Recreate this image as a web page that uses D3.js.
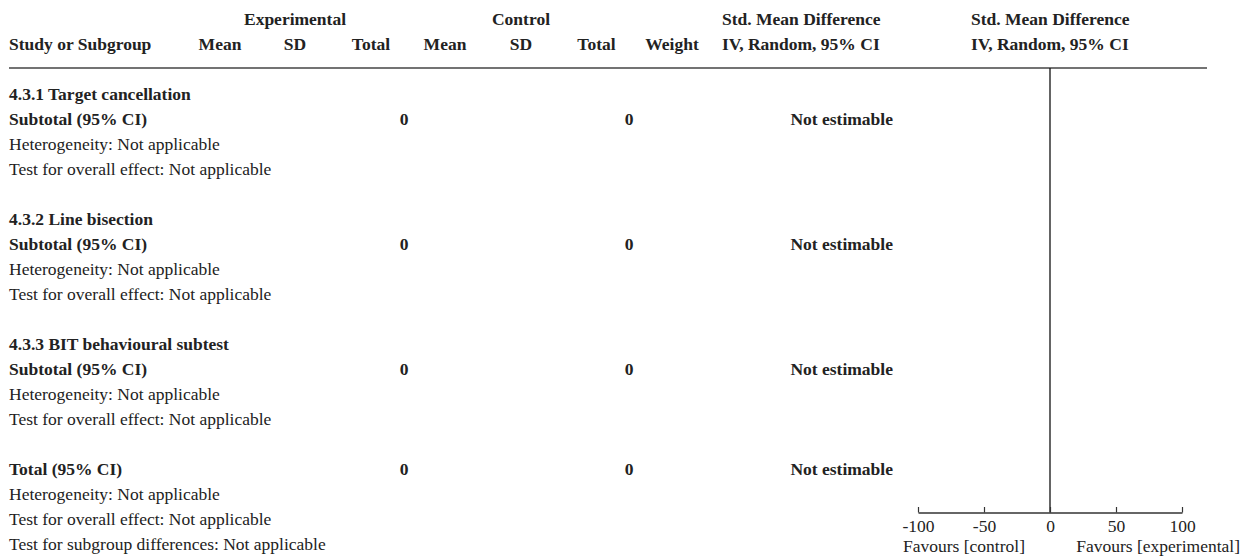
<!DOCTYPE html>
<html>
<head>
<meta charset="utf-8">
<script src="https://cdn.jsdelivr.net/npm/d3@7"></script>
<style>
  html, body { margin: 0; padding: 0; background: #fff; }
  svg text { font-family: "Liberation Serif", "Times New Roman", serif; font-size: 17.5px; fill: #222; }
  .b { font-weight: bold; }
</style>
</head>
<body>
<svg id="chart" width="1245" height="557"></svg>
<script>
// Column headers (anchor "start" = left-aligned at the column's x)
const groupHeaders = [
  { text: "Experimental", col: "expSD", anchor: "middle" },
  { text: "Control", col: "ctlSD", anchor: "middle" },
  { text: "Std. Mean Difference", col: "smd", anchor: "start" },
  { text: "Std. Mean Difference", col: "plot", anchor: "start" }
];
const columnHeaders = [
  { text: "Study or Subgroup", col: "study", anchor: "start" },
  { text: "Mean", col: "expMean", anchor: "middle" },
  { text: "SD", col: "expSD", anchor: "middle" },
  { text: "Total", col: "expTotal", anchor: "middle" },
  { text: "Mean", col: "ctlMean", anchor: "middle" },
  { text: "SD", col: "ctlSD", anchor: "middle" },
  { text: "Total", col: "ctlTotal", anchor: "middle" },
  { text: "Weight", col: "weight", anchor: "middle" },
  { text: "IV, Random, 95% CI", col: "smd", anchor: "start" },
  { text: "IV, Random, 95% CI", col: "plot", anchor: "start" }
];

// Table body rows
const subgroups = ["4.3.1 Target cancellation", "4.3.2 Line bisection", "4.3.3 BIT behavioural subtest"];
const subgroupExpTotals = [0, 0, 0];
const subgroupCtlTotals = [0, 0, 0];
const subgroupEstimates = ["Not estimable", "Not estimable", "Not estimable"];
const overallExpTotal = 0;
const overallCtlTotal = 0;
const overallEstimate = "Not estimable";
const notesSub = ["Heterogeneity: Not applicable", "Test for overall effect: Not applicable"];
const notesTotal = ["Heterogeneity: Not applicable", "Test for overall effect: Not applicable", "Test for subgroup differences: Not applicable"];

// Forest plot axis
const axisDomain = [-100, 100];
const axisTicks = [-100, -50, 0, 50, 100];
const favourLeft = "Favours [control]";
const favourRight = "Favours [experimental]";

// Build the rows (null = spacer line)
const rows = [];
subgroups.forEach((name, i) => {
  rows.push({ type: "title", label: name });
  rows.push({ type: "subtotal", label: "Subtotal (95% CI)", expTotal: subgroupExpTotals[i], ctlTotal: subgroupCtlTotals[i], est: subgroupEstimates[i] });
  notesSub.forEach(n => rows.push({ type: "note", label: n }));
  rows.push(null);
});
rows.push({ type: "subtotal", label: "Total (95% CI)", expTotal: overallExpTotal, ctlTotal: overallCtlTotal, est: overallEstimate });
notesTotal.forEach(n => rows.push({ type: "note", label: n }));

const svg = d3.select("#chart");

// Column anchors
const colX = {
  study: 9, expMean: 220, expSD: 295, expTotal: 371,
  ctlMean: 445, ctlSD: 521, ctlTotal: 596.5, weight: 672, smd: 722, plot: 971
};
const expTotalRight = 408.5, ctlTotalRight = 633.5, estRight = 893;

// Headers
svg.selectAll("text.gh").data(groupHeaders).join("text")
  .attr("class", "gh b")
  .attr("x", d => colX[d.col]).attr("y", 24.5)
  .attr("text-anchor", d => d.anchor).text(d => d.text);
svg.selectAll("text.ch").data(columnHeaders).join("text")
  .attr("class", "ch b")
  .attr("x", d => colX[d.col]).attr("y", 49.5)
  .attr("text-anchor", d => d.anchor).text(d => d.text);

// Header rule
svg.append("line").attr("x1", 9).attr("x2", 1207).attr("y1", 68).attr("y2", 68)
  .attr("stroke", "#444").attr("stroke-width", 1.3);

// Row scale
const y = d3.scaleBand().domain(d3.range(rows.length)).range([81.5, 81.5 + 25 * rows.length]);
const base = i => y(i) + 18.5;

const body = svg.append("g");
rows.forEach((r, i) => {
  if (!r) return;
  const bold = r.type !== "note";
  body.append("text").attr("class", bold ? "b" : null)
    .attr("x", colX.study).attr("y", base(i)).text(r.label);
  if (r.type === "subtotal") {
    body.append("text").attr("class", "b").attr("text-anchor", "end")
      .attr("x", expTotalRight).attr("y", base(i)).text(r.expTotal);
    body.append("text").attr("class", "b").attr("text-anchor", "end")
      .attr("x", ctlTotalRight).attr("y", base(i)).text(r.ctlTotal);
    body.append("text").attr("class", "b").attr("text-anchor", "end")
      .attr("x", estRight).attr("y", base(i)).text(r.est);
  }
});

// Forest plot: line of no effect and scale
const x = d3.scaleLinear().domain(axisDomain).range([918, 1182]);
const axisY = 512.5;
svg.append("line").attr("x1", x(0)).attr("x2", x(0)).attr("y1", 68).attr("y2", axisY)
  .attr("stroke", "#111").attr("stroke-width", 1.3);

const axis = d3.axisBottom(x).tickValues(axisTicks).tickSize(0).tickFormat(d => String(d));
const ag = svg.append("g").attr("transform", `translate(0,${axisY})`).call(axis);
ag.select(".domain").attr("stroke", "#333").attr("stroke-width", 1.3);
ag.selectAll(".tick line").attr("y1", -5.5).attr("y2", 0).attr("stroke", "#333").attr("stroke-width", 1.2);
ag.selectAll(".tick text").attr("dy", null).attr("y", 19)
  .style("font-family", "'Liberation Serif', serif").style("font-size", "17.5px").attr("fill", "#222");

svg.append("text").attr("x", 903).attr("y", 552).text(favourLeft);
svg.append("text").attr("x", 1240).attr("y", 552).attr("text-anchor", "end").text(favourRight);
</script>
</body>
</html>
